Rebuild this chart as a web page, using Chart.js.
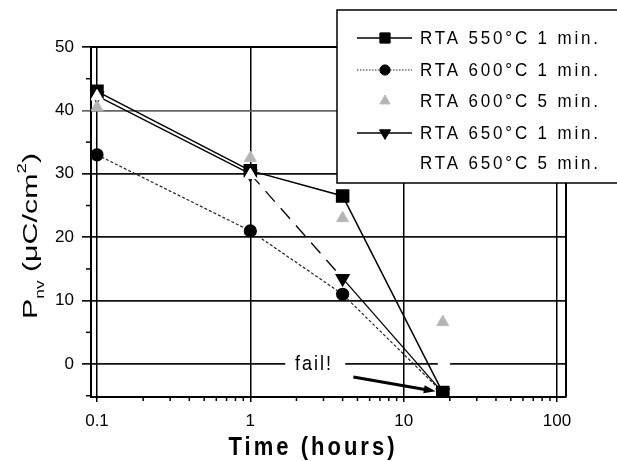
<!DOCTYPE html>
<html>
<head>
<meta charset="utf-8">
<script src="https://cdn.jsdelivr.net/npm/chart.js@4.4.0/dist/chart.umd.min.js"></script>
<style>
  html, body { margin: 0; padding: 0; background: #fff; }
  #wrap { width: 617px; height: 461px; }
</style>
</head>
<body>
<div id="wrap"><canvas id="pnvChart" width="617" height="461"></canvas></div>
<script>
// data
const times = [0.1, 1, 4, 18];
const rta550_1min = [43, 30.5, 26.5, -4.5];
const rta600_1min = [33, 21, 11, -4.5];
const rta600_5min = [40.5, 32.5, 23, 6.6];
const rta650_1min = [42.3, 30, 13.5, -4.5];
const rta650_5min = [42.2, 29.8, null, null];
const seriesLabels = ['RTA 550°C 1 min.', 'RTA 600°C 1 min.', 'RTA 600°C 5 min.', 'RTA 650°C 1 min.', 'RTA 650°C 5 min.'];
const xTicks = [0.1, 1, 10, 100];
const xTickLabels = ['0.1', '1', '10', '100'];
const yTicks = [0, 10, 20, 30, 40, 50];
const failLabel = 'fail!';
const failPos = [2.6, 0];
const failArrow = [[4.7, -2.05], [16.2, -4.3]];

function pts(ys) {
    const out = [];
    ys.forEach((y, i) => { if (y !== null) out.push({ x: times[i], y: y }); });
    return out;
}

// small symbol painter used by the floating legend
function drawSymbol(ctx, ds, x, y) {
    const r = ds.pointRadius;
    ctx.save();
    ctx.fillStyle = ds.pointBackgroundColor;
    ctx.strokeStyle = ds.pointBorderColor;
    ctx.lineWidth = 1;
    ctx.beginPath();
    if (ds.pointStyle === 'rect') {
        const s = Math.SQRT1_2 * r;
        ctx.rect(x - s, y - s, 2 * s, 2 * s);
    } else if (ds.pointStyle === 'circle') {
        ctx.arc(x, y, r, 0, Math.PI * 2);
    } else if (ds.pointStyle === 'triangle') {
        const dir = ds.pointRotation === 180 ? -1 : 1;
        ctx.moveTo(x, y - dir * r);
        ctx.lineTo(x + r * 0.866, y + dir * r * 0.5);
        ctx.lineTo(x - r * 0.866, y + dir * r * 0.5);
        ctx.closePath();
    }
    ctx.fill();
    ctx.stroke();
    ctx.restore();
}

// text spread to a given width, optionally stretched vertically
function fitText(ctx, txt, x, y, font, width, sy, align) {
    ctx.save();
    ctx.font = font;
    ctx.letterSpacing = '0px';
    const w = ctx.measureText(txt).width;
    const ls = txt.length > 1 ? (width - w) / (txt.length - 1) : 0;
    ctx.letterSpacing = ls.toFixed(2) + 'px';
    ctx.translate(x, y);
    ctx.scale(1, sy);
    ctx.textAlign = align;
    ctx.textBaseline = 'alphabetic';
    ctx.fillStyle = '#000';
    ctx.fillText(txt, 0, 0);
    ctx.restore();
}

const decorPlugin = {
    id: 'decor',
    beforeDatasetsDraw(chart) {
        const ctx = chart.ctx;
        const a = chart.chartArea;
        const xs = chart.scales.x, ys = chart.scales.y;
        ctx.save();
        // minor ticks on the log axis
        ctx.strokeStyle = '#000';
        ctx.lineWidth = 1.5;
        [0.1, 1, 10].forEach(d => {
            for (let k = 2; k <= 9; k++) {
                const px = xs.getPixelForValue(k * d);
                if (px > a.right) continue;
                ctx.beginPath();
                ctx.moveTo(px, a.bottom);
                ctx.lineTo(px, a.bottom + 4);
                ctx.stroke();
            }
        });
        // minor ticks on y
        for (let v = -5; v <= 45; v += 10) {
            const py = ys.getPixelForValue(v);
            ctx.beginPath();
            ctx.moveTo(a.left, py);
            ctx.lineTo(a.left - 5, py);
            ctx.stroke();
        }
        // frame top/right
        ctx.lineWidth = 2;
        ctx.beginPath();
        ctx.moveTo(a.left, a.top);
        ctx.lineTo(a.right, a.top);
        ctx.lineTo(a.right, a.bottom);
        ctx.stroke();
        // "fail!" label sitting in a gap of the zero line
        const fx = xs.getPixelForValue(failPos[0]);
        const fy = ys.getPixelForValue(failPos[1]);
        ctx.fillStyle = '#fff';
        ctx.fillRect(xs.getPixelForValue(1.69), fy - 3, xs.getPixelForValue(4.16) - xs.getPixelForValue(1.69), 6);
        ctx.fillRect(xs.getPixelForValue(16.7), fy - 3, xs.getPixelForValue(20.1) - xs.getPixelForValue(16.7), 6);
        ctx.restore();
        fitText(ctx, failLabel, fx, fy + 6, '18px Arial', 36, 1.15, 'center');
    },
    afterDatasetsDraw(chart) {
        const ctx = chart.ctx;
        const xs = chart.scales.x, ys = chart.scales.y;
        const x0 = xs.getPixelForValue(failArrow[0][0]), y0 = ys.getPixelForValue(failArrow[0][1]);
        const x1 = xs.getPixelForValue(failArrow[1][0]), y1 = ys.getPixelForValue(failArrow[1][1]);
        const ang = Math.atan2(y1 - y0, x1 - x0);
        ctx.save();
        ctx.strokeStyle = '#000';
        ctx.fillStyle = '#000';
        ctx.lineWidth = 3;
        ctx.beginPath();
        ctx.moveTo(x0, y0);
        ctx.lineTo(x1 - 8 * Math.cos(ang), y1 - 8 * Math.sin(ang));
        ctx.stroke();
        ctx.beginPath();
        ctx.moveTo(x1, y1);
        ctx.lineTo(x1 - 12 * Math.cos(ang) + 4 * Math.sin(ang), y1 - 12 * Math.sin(ang) - 4 * Math.cos(ang));
        ctx.lineTo(x1 - 12 * Math.cos(ang) - 4 * Math.sin(ang), y1 - 12 * Math.sin(ang) + 4 * Math.cos(ang));
        ctx.closePath();
        ctx.fill();
        ctx.restore();
    },
    afterDraw(chart) {
        const ctx = chart.ctx;
        // axis titles
        fitText(ctx, 'Time (hours)', 313, 455, 'bold 22px Arial', 166, 1.2, 'center');

        ctx.save();
        ctx.translate(37, 236);
        ctx.rotate(-Math.PI / 2);
        const parts = [
            { t: 'P', f: '21px Arial', dy: 0 },
            { t: 'nv', f: '12px Arial', dy: 7 },
            { t: ' (', f: '21px Arial', dy: 0 },
            { t: 'μC/cm', f: '21px Arial', dy: 0 },
            { t: '2', f: '13px Arial', dy: -11 },
            { t: ')', f: '21px Arial', dy: 0 }
        ];
        let total = 0;
        parts.forEach(p => { ctx.font = p.f; p.w = ctx.measureText(p.t).width; total += p.w; });
        const sx = 166 / total;
        ctx.scale(sx, 1);
        ctx.fillStyle = '#000';
        ctx.textBaseline = 'alphabetic';
        let cx = -total / 2;
        parts.forEach(p => { ctx.font = p.f; ctx.fillText(p.t, cx, p.dy); cx += p.w; });
        ctx.restore();

        // floating legend box
        const bx = 337, by = 10, bw = 300, bh = 173;
        ctx.save();
        ctx.fillStyle = '#fff';
        ctx.fillRect(bx, by, bw, bh);
        ctx.strokeStyle = '#000';
        ctx.lineWidth = 1.5;
        ctx.strokeRect(bx, by, bw, bh);
        const rowsY = [38, 70, 101, 133, 163];
        chart.data.datasets.forEach((ds, i) => {
            const ry = rowsY[i];
            if (ds.showLine !== false) {
                ctx.save();
                ctx.strokeStyle = ds.borderColor;
                ctx.lineWidth = ds.borderWidth;
                ctx.setLineDash(ds.legendDash || []);
                ctx.beginPath();
                ctx.moveTo(357, ry);
                ctx.lineTo(412, ry);
                ctx.stroke();
                ctx.restore();
            }
            const legendDs = Object.assign({}, ds, { pointRadius: ds.pointRadius * 0.85 });
            drawSymbol(ctx, legendDs, 385, ry);
            fitText(ctx, ds.label, 420, ry + 6, '17px Arial', 178, 1.08, 'left');
        });
        ctx.restore();
    }
};

const ctx = document.getElementById('pnvChart').getContext('2d');
const pnvChart = new Chart(ctx, {
    type: 'scatter',
    data: {
        datasets: [{
            label: seriesLabels[0],
            data: pts(rta550_1min),
            showLine: true,
            borderColor: '#000',
            borderWidth: 1.5,
            pointStyle: 'rect',
            pointRadius: 8.5,
            pointBackgroundColor: '#000',
            pointBorderColor: '#000'
        }, {
            label: seriesLabels[1],
            data: pts(rta600_1min),
            showLine: true,
            borderColor: '#222',
            borderWidth: 1.2,
            borderDash: [3, 2],
            legendDash: [1.5, 1.5],
            pointStyle: 'circle',
            pointRadius: 6,
            pointBackgroundColor: '#000',
            pointBorderColor: '#000'
        }, {
            label: seriesLabels[2],
            data: pts(rta600_5min),
            showLine: false,
            borderColor: '#aaa',
            borderWidth: 1,
            pointStyle: 'triangle',
            pointRadius: 7,
            pointBackgroundColor: '#b4b4b4',
            pointBorderColor: '#bdbdbd'
        }, {
            label: seriesLabels[3],
            data: pts(rta650_1min),
            showLine: true,
            borderColor: '#000',
            borderWidth: 1.3,
            segment: {
                borderDash: c => (c.p0DataIndex === 1 ? [14, 9] : [])
            },
            pointStyle: 'triangle',
            pointRotation: 180,
            pointRadius: 7.5,
            pointBackgroundColor: '#000',
            pointBorderColor: '#000'
        }, {
            label: seriesLabels[4],
            data: pts(rta650_5min),
            showLine: false,
            order: -1,
            borderColor: '#fff',
            borderWidth: 1,
            pointStyle: 'triangle',
            pointRadius: 7,
            pointBackgroundColor: '#fff',
            pointBorderColor: '#fff'
        }]
    },
    options: {
        responsive: false,
        animation: false,
        layout: { padding: { top: 47, right: 51, bottom: 0, left: 0 } },
        plugins: {
            legend: { display: false },
            tooltip: { enabled: false }
        },
        scales: {
            x: {
                type: 'logarithmic',
                min: 0.0914,
                max: 114.5,
                afterBuildTicks: s => { s.ticks = xTicks.map(v => ({ value: v, major: true })); },
                afterFit: s => { s.height = 64; },
                grid: { color: '#000', lineWidth: 1.5, tickLength: 5 },
                border: { color: '#000', width: 2 },
                ticks: {
                    padding: 9,
                    autoSkip: false,
                    maxRotation: 0,
                    color: '#000',
                    font: { family: 'Arial', size: 17 },
                    callback: (v, i) => xTickLabels[i]
                }
            },
            y: {
                type: 'linear',
                min: -5.2,
                max: 50,
                afterBuildTicks: s => { s.ticks = yTicks.map(v => ({ value: v })); },
                afterFit: s => { s.width = 91; },
                grid: {
                    color: c => (c.tick && c.tick.value === 40 ? '#666' : '#111'),
                    lineWidth: 1.7,
                    tickLength: 9
                },
                border: { color: '#000', width: 2 },
                ticks: {
                    padding: 8,
                    color: '#000',
                    font: { family: 'Arial', size: 17 }
                }
            }
        }
    },
    plugins: [decorPlugin]
});
</script>
</body>
</html>
